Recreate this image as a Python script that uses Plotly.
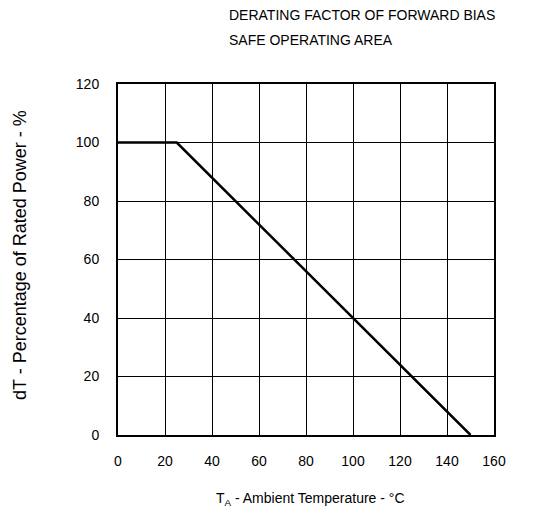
import plotly.graph_objects as go

temp_c = [0, 25, 150]
power_pct = [100, 100, 0]
x_ticks = [0, 20, 40, 60, 80, 100, 120, 140, 160]
y_ticks = [0, 20, 40, 60, 80, 100, 120]

W, H = 537, 522
L, R, T, B = 110, 486, 76, 427

fig = go.Figure()
fig.add_trace(go.Scatter(x=temp_c, y=power_pct, mode="lines",
                         line=dict(color="black", width=2.5), showlegend=False,
                         hoverinfo="skip"))

font = dict(family="Liberation Sans, Arial, sans-serif", size=14, color="black")

fig.update_layout(
    width=W, height=H,
    margin=dict(l=L, r=W - R, t=T, b=H - B, pad=0),
    paper_bgcolor="white", plot_bgcolor="white",
    font=font,
    showlegend=False,
)
fig.update_xaxes(range=[0, 160], tickvals=x_ticks, ticktext=[str(v) for v in x_ticks],
                 showgrid=True, gridcolor="black", gridwidth=1,
                 showline=True, linecolor="black", linewidth=2, mirror=True,
                 ticks="", ticklabelstandoff=12, zeroline=False, fixedrange=True)
fig.update_yaxes(range=[0, 120], tickvals=y_ticks, ticktext=[str(v) for v in y_ticks],
                 showgrid=True, gridcolor="black", gridwidth=1,
                 showline=True, linecolor="black", linewidth=2, mirror=True,
                 ticks="", ticklabelstandoff=14, zeroline=False, fixedrange=True)

pw, ph = R - L, B - T


def px_x(p):
    return (p - L) / pw


def px_y(p):
    return (B - p) / ph


fig.add_annotation(text="DERATING FACTOR OF FORWARD BIAS",
                   xref="paper", yref="paper", x=px_x(219), y=px_y(7),
                   xanchor="left", yanchor="middle", showarrow=False, font=font)
fig.add_annotation(text="SAFE OPERATING AREA",
                   xref="paper", yref="paper", x=px_x(219), y=px_y(32),
                   xanchor="left", yanchor="middle", showarrow=False, font=font)
fig.add_annotation(text="T<sub>A</sub> - Ambient Temperature - °C",
                   xref="paper", yref="paper", x=px_x(302), y=px_y(491),
                   xanchor="center", yanchor="middle", showarrow=False, font=font)
fig.add_annotation(text="dT - Percentage of Rated Power - %",
                   xref="paper", yref="paper", x=px_x(12), y=px_y(247),
                   xanchor="center", yanchor="middle", textangle=-90,
                   showarrow=False, font=dict(family=font["family"], size=18, color="black"))

fig.write_html("out.html")
